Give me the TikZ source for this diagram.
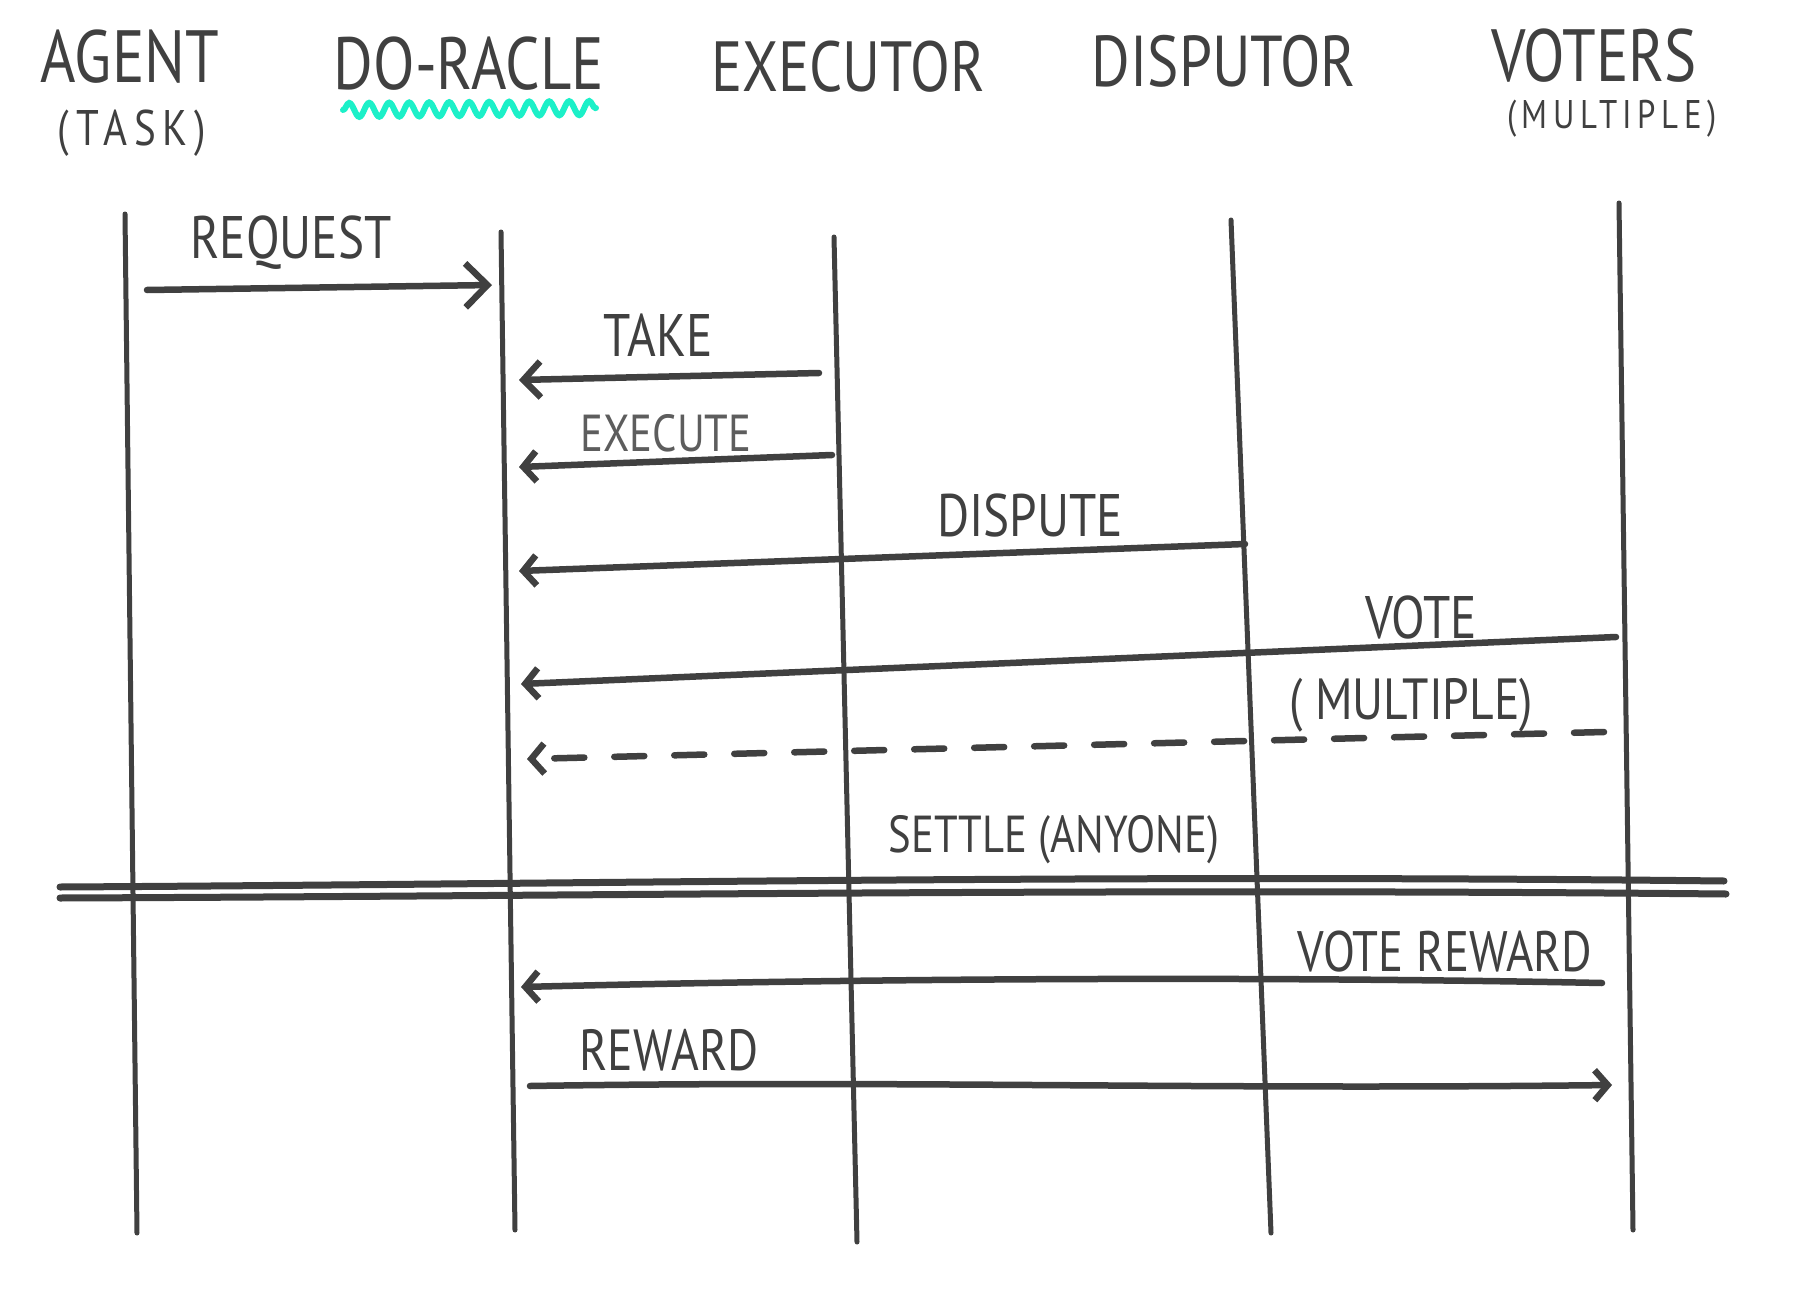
\documentclass[tikz,border=0pt]{standalone}
\usepackage{fontspec}
\newfontfamily\hand{PT Sans}[FakeStretch=0.82]
\newfontfamily\handwide{PT Sans}[FakeStretch=0.82,LetterSpace=14]
\usetikzlibrary{arrows.meta,decorations.pathmorphing}
\definecolor{pencil}{HTML}{404040}
\definecolor{mint}{RGB}{28,240,200}
\begin{document}
\begin{tikzpicture}[x=1pt,y=-1pt,
  lifeline/.style={draw=pencil, line width=5pt, line cap=round},
  msg/.style={draw=pencil, line width=6.5pt, line cap=round},
  bigtip/.style={-{Straight Barb[length=22pt,width=44pt]}},
  midtip/.style={-{Straight Barb[length=17pt,width=36pt]}},
  smalltip/.style={-{Straight Barb[length=13pt,width=30pt]}},
  lbl/.style={text=pencil, inner sep=0pt, anchor=center},
  hdr/.style={lbl, font=\hand\fontsize{74}{80}\selectfont},
  sub/.style={lbl, font=\handwide\fontsize{50}{56}\selectfont},
  msglbl/.style={lbl, font=\hand\fontsize{60}{66}\selectfont},
  smalllbl/.style={lbl, font=\hand\fontsize{50}{56}\selectfont},
]
\useasboundingbox[fill=white] (0,0) rectangle (1816,1295);

% headers
\node[hdr] (hAgent) at (130,57) {AGENT};
\node[sub] (hTask) at (132,133) {(TASK)};
\node[hdr] (hOracle) at (469,64) {DO-RACLE};
\node[hdr, font=\hand\fontsize{71}{78}\selectfont] (hExec) at (848,67) {EXECUTOR};
\node[hdr, font=\hand\fontsize{72}{78}\selectfont] (hDisp) at (1224,61) {DISPUTOR};
\node[hdr] (hVoters) at (1594,56) {VOTERS};
\node[lbl, font=\handwide\fontsize{40}{46}\selectfont] (hMult) at (1612,119) {(MULTIPLE)};
\coordinate (wavyL) at (343,110);
\coordinate (wavyR) at (596,108);
\draw[mint, line width=6pt, line cap=round,
  decorate, decoration={snake, segment length=20pt, amplitude=7pt}] (wavyL) -- (wavyR);

% lifelines
\coordinate (agT) at (125,214);  \coordinate (agB) at (137,1233);
\coordinate (orT) at (501,232);  \coordinate (orB) at (515,1230);
\coordinate (exT) at (834,237);  \coordinate (exB) at (857,1242);
\coordinate (diT) at (1231,220); \coordinate (diB) at (1271,1233);
\coordinate (voT) at (1619,203); \coordinate (voB) at (1633,1230);
\foreach \l in {ag,or,ex,di,vo} \draw[lifeline] (\l T) -- (\l B);

% messages
\coordinate (reqS) at (147,290); \coordinate (reqE) at (492,285);
\draw[msg, bigtip] (reqS) -- (reqE);
\node[msglbl] (lReq) at (291,243) {REQUEST};

\coordinate (takeS) at (819,373); \coordinate (takeE) at (519,380);
\draw[msg, midtip] (takeS) -- (takeE);
\node[msglbl] (lTake) at (658,335) {TAKE};

\coordinate (execS) at (832,455); \coordinate (execE) at (519,467);
\draw[msg, smalltip] (execS) -- (execE);
\node[smalllbl, text=pencil!85, font=\hand\fontsize{52}{58}\selectfont] (lExec) at (666,433) {EXECUTE};

\coordinate (dispS) at (1245,544); \coordinate (dispE) at (519,571);
\draw[msg, smalltip] (dispS) -- (dispE);
\node[msglbl] (lDisp) at (1030,515) {DISPUTE};

\coordinate (voteS) at (1616,637); \coordinate (voteE) at (521,684);
\draw[msg, smalltip] (voteS) -- (voteE);
\node[msglbl] (lVote) at (1421,617) {VOTE};
\node[lbl, font=\hand\fontsize{58}{64}\selectfont] (lMult) at (1411,705) {( MULTIPLE)};

\coordinate (dashS) at (1604,732); \coordinate (dashE) at (527,759);
\draw[msg, smalltip, dash pattern=on 30pt off 30pt] (dashS) -- (dashE);

\node[smalllbl, font=\hand\fontsize{52}{58}\selectfont] (lSettle) at (1054,840) {SETTLE (ANYONE)};
\coordinate (s1L) at (60,887); \coordinate (s1R) at (1724,881);
\coordinate (s2L) at (60,898); \coordinate (s2R) at (1726,894);
\draw[msg, line width=7pt] (s1L) .. controls (600,884) and (1100,874) .. (s1R);
\draw[msg, line width=7pt] (s2L) .. controls (600,896) and (1100,888) .. (s2R);

\coordinate (vrS) at (1602,983); \coordinate (vrE) at (521,987);
\draw[msg, smalltip] (vrS) .. controls (1200,975) and (800,980) .. (vrE);
\node[lbl, font=\hand\fontsize{57}{62}\selectfont] (lVR) at (1445,952) {VOTE REWARD};

\coordinate (rwS) at (530,1086); \coordinate (rwE) at (1612,1085);
\draw[msg, smalltip] (rwS) .. controls (900,1080) and (1200,1090) .. (rwE);
\node[msglbl, font=\hand\fontsize{58}{64}\selectfont] (lRw) at (669,1050) {REWARD};
\end{tikzpicture}
\end{document}
